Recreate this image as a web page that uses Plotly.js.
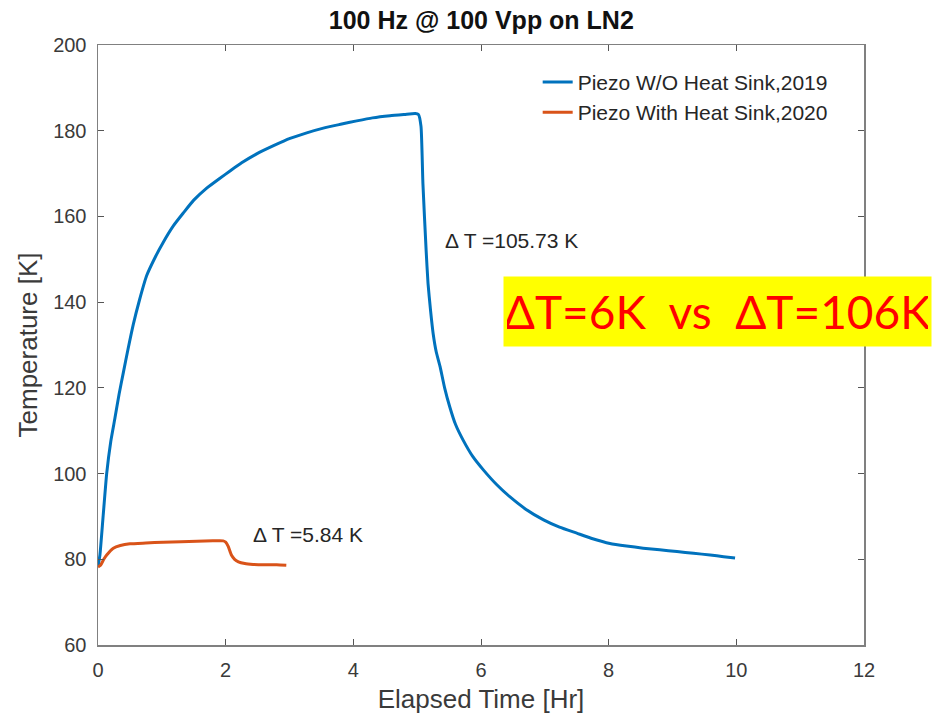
<!DOCTYPE html>
<html>
<head>
<meta charset="utf-8">
<script src="https://cdn.plot.ly/plotly-3.0.1.min.js"></script>
<style>html,body{margin:0;padding:0;background:#fff;}#chart{width:941px;height:719px;}</style>
</head>
<body>
<div id="chart"></div>
<script>
const blueName = "Piezo W/O Heat Sink,2019";
const blueTime = [0,0.03,0.08,0.136,0.2,0.266,0.33,0.396,0.47,0.553,0.65,0.763,0.9,1.023,1.18,1.336,1.5,1.703,1.9,2.068,2.25,2.486,2.75,3.008,3.27,3.53,3.8,4.053,4.3,4.574,4.8,4.97,5.02,5.06,5.09,5.14,5.17,5.21,5.25,5.3,5.36,5.43,5.51,5.6,5.72,5.87,6.04,6.24,6.45,6.7,6.98,7.23,7.5,7.75,8.02,8.28,8.54,8.8,9.07,9.33,9.59,9.8,9.98];
const blueTemp = [78.3,81,90,100,107.5,113,118.5,123.5,129,134.8,140.5,146.2,150.6,154,157.8,160.8,163.8,166.6,168.8,170.6,172.5,174.6,176.5,178.2,179.5,180.6,181.5,182.3,183,183.5,183.8,184.0,183.8,181,167.7,152.2,144.4,138,132.7,128.3,124.9,120,115.6,111.5,107.8,104,100.8,97.5,94.6,91.7,89.2,87.5,86.1,84.8,83.7,83.1,82.6,82.2,81.8,81.4,81.0,80.6,80.3];

const orangeName = "Piezo With Heat Sink,2020";
const orangeTime = [0,0.04,0.09,0.136,0.24,0.35,0.5,0.75,1.02,1.3,1.55,1.8,1.96,2.0,2.04,2.09,2.14,2.2,2.3,2.43,2.6,2.8,2.95];
const orangeTemp = [78.2,78.6,80,81.0,82.6,83.2,83.6,83.8,84.0,84.1,84.2,84.3,84.3,84.0,83.0,81.0,80.0,79.4,79.0,78.8,78.7,78.7,78.6];

const xTicks = [0,2,4,6,8,10,12];
const yTicks = [60,80,100,120,140,160,180,200];

const font = "Liberation Sans, Arial, sans-serif";
const txt = "#262626";
const axisCol = "#808080";

const traces = [
  {x: blueTime, y: blueTemp, name: blueName, mode: "lines", line: {color: "#0072BD", width: 3, shape: "spline", smoothing: 0.5}},
  {x: orangeTime, y: orangeTemp, name: orangeName, mode: "lines", line: {color: "#D95319", width: 3, shape: "spline", smoothing: 0.5}}
];

const axisCommon = {
  showgrid: false, zeroline: false, showline: true, mirror: "ticks",
  linecolor: axisCol, linewidth: 1.5, ticks: "inside", ticklen: 6, tickcolor: "#555",
  tickfont: {family: font, size: 20, color: "#3a3a3a"}
};

const layout = {
  width: 941, height: 719,
  margin: {l: 98, r: 77, t: 45, b: 74},
  paper_bgcolor: "#fff", plot_bgcolor: "#fff",
  title: {text: "<b>100 Hz @ 100 Vpp on LN2</b>", font: {family: font, size: 25, color: "#111"}, x: 0.5115, xanchor: "center", y: 0.972, yanchor: "middle"},
  xaxis: Object.assign({}, axisCommon, {range: [0, 12], tickvals: xTicks, ticktext: xTicks.map(String), ticklabelstandoff: 6,
    title: {text: "Elapsed Time [Hr]", font: {family: font, size: 26, color: "#3a3a3a"}, standoff: 10}}),
  yaxis: Object.assign({}, axisCommon, {range: [60, 200], tickvals: yTicks, ticktext: yTicks.map(String), ticklabelstandoff: 6,
    title: {text: "Temperature [K]", font: {family: font, size: 26, color: "#3a3a3a"}, standoff: 8}}),
  showlegend: true,
  legend: {x: 0.574, y: 0.972, xanchor: "left", yanchor: "top", bgcolor: "rgba(0,0,0,0)", borderwidth: 0,
    font: {family: font, size: 21, color: txt}},
  annotations: [
    {xref: "x", yref: "y", x: 5.4, y: 154.5, text: "Δ T =105.73 K", showarrow: false, xanchor: "left", yanchor: "middle",
     font: {family: font, size: 21, color: txt}},
    {xref: "x", yref: "y", x: 2.4, y: 85.8, text: "Δ T =5.84 K", showarrow: false, xanchor: "left", yanchor: "middle",
     font: {family: font, size: 21, color: txt}},
    {xref: "paper", yref: "paper", x: (503 - 98) / 766, y: (645 - 311) / 600, xanchor: "left", yanchor: "middle",
     text: "ΔT=6K  vs  ΔT=106K", showarrow: false, bgcolor: "#FFFF00", borderpad: 3,
     width: 421, height: 63, align: "center",
     font: {family: "Lato, Open Sans, sans-serif", size: 46, color: "#FF0000"}}
  ]
};

Plotly.newPlot("chart", traces, layout, {displayModeBar: false, staticPlot: true});
</script>
</body>
</html>
